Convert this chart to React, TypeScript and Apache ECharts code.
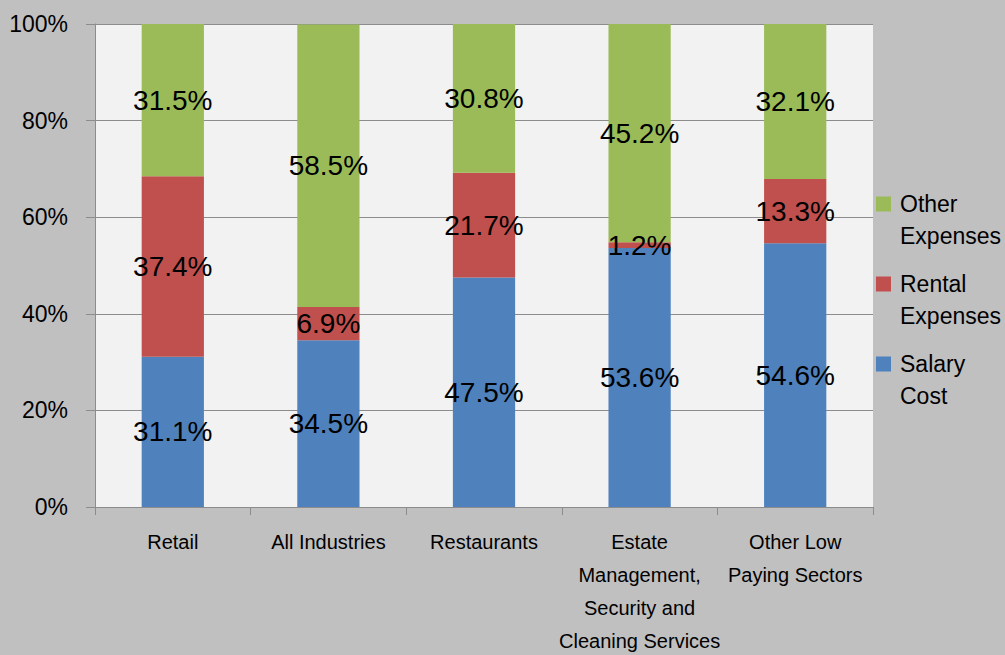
import React, { useEffect, useRef } from "react";
import * as echarts from "echarts";

const categories = [
  "Retail",
  "All Industries",
  "Restaurants",
  "Estate\nManagement,\nSecurity and\nCleaning Services",
  "Other Low\nPaying Sectors",
];
const salaryCost = [31.1, 34.5, 47.5, 53.6, 54.6];
const rentalExpenses = [37.4, 6.9, 21.7, 1.2, 13.3];
const otherExpenses = [31.5, 58.5, 30.8, 45.2, 32.1];
const seriesNames = ["Salary Cost", "Rental Expenses", "Other Expenses"];
const legendLabels: Record<string, string> = {
  "Salary Cost": " \nSalary\nCost",
  "Rental Expenses": " \nRental\nExpenses",
  "Other Expenses": " \nOther\nExpenses",
};

const COLORS = ["#4F81BD", "#C0504D", "#9BBB59"];
const FONT = "'Liberation Sans', Arial, sans-serif";

export default function App() {
  const ref = useRef<HTMLDivElement>(null);
  useEffect(() => {
    if (!ref.current) return;
    const chart = echarts.init(ref.current, undefined, { renderer: "svg" });
    const values = [salaryCost, rentalExpenses, otherExpenses];
    chart.setOption({
      animation: false,
      backgroundColor: "#C0C0C0",
      grid: {
        left: 95,
        top: 24,
        right: 132,
        bottom: 148,
        show: true,
        backgroundColor: "#F2F2F2",
        borderWidth: 0,
        containLabel: false,
        outerBoundsMode: "none",
      },
      legend: {
        orient: "vertical",
        left: 876,
        top: 156,
        padding: 0,
        itemWidth: 15,
        itemHeight: 15,
        itemGap: -16,
        icon: "rect",
        data: ["Other Expenses", "Rental Expenses", "Salary Cost"],
        formatter: (n: string) => legendLabels[n] || n,
        textStyle: {
          fontFamily: FONT,
          fontSize: 23,
          color: "#000",
          lineHeight: 32,
          padding: [0, 0, 0, 4],
        },
      },
      xAxis: {
        type: "category",
        data: categories,
        axisLine: { lineStyle: { color: "#8C8C8C", width: 1 } },
        axisTick: { show: true, length: 8, lineStyle: { color: "#8C8C8C" } },
        axisLabel: {
          interval: 0,
          margin: 18,
          fontFamily: FONT,
          fontSize: 20,
          lineHeight: 33,
          color: "#000",
        },
      },
      yAxis: {
        type: "value",
        min: 0,
        max: 100,
        interval: 20,
        axisLine: { show: true, lineStyle: { color: "#8C8C8C", width: 1 } },
        axisTick: { show: true, length: 9, lineStyle: { color: "#8C8C8C" } },
        splitLine: { show: true, lineStyle: { color: "#8C8C8C", width: 1 } },
        axisLabel: {
          margin: 27,
          fontFamily: FONT,
          fontSize: 23,
          color: "#000",
          formatter: "{value}%",
        },
      },
      series: seriesNames.map((name, i) => ({
        name,
        type: "bar",
        stack: "total",
        barWidth: "40%",
        data: values[i],
        itemStyle: { color: COLORS[i] },
        label: {
          show: true,
          position: "inside",
          formatter: (p: any) => `${p.value.toFixed(1)}%`,
          fontFamily: FONT,
          fontSize: 28,
          color: "#000",
          textBorderWidth: 0,
        },
      })),
    });
    return () => chart.dispose();
  }, []);
  return (
    <div
      ref={ref}
      style={{ position: "fixed", left: 0, top: 0, width: 1005, height: 655 }}
    />
  );
}
